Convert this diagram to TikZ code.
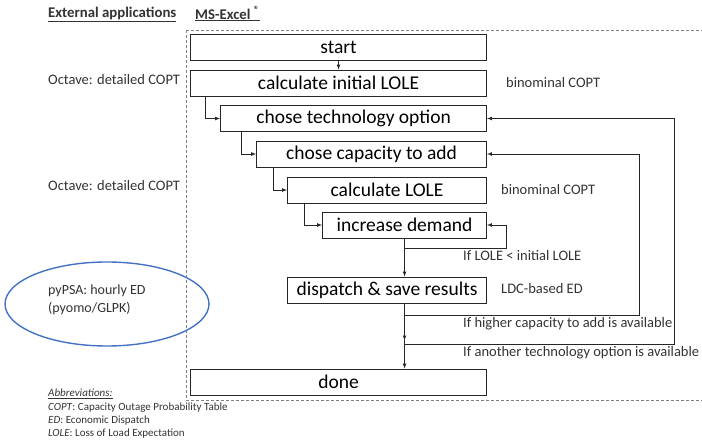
\documentclass[tikz,border=0pt]{standalone}
\usepackage{fontspec}
\setmainfont{Carlito}
\tikzset{
	box/.style={draw=black!85, line width=0.9pt, anchor=east, minimum height=26pt, inner sep=0pt, font=\fontsize{19.5}{22}\selectfont},
	link/.style={-latex, line width=0.7pt, draw=black!85},
	note/.style={anchor=west, inner sep=0pt, text=black!80, font=\fontsize{14.5}{17}\selectfont},
	head/.style={note, font=\fontsize{14.8}{17}\selectfont\bfseries},
	abbr/.style={anchor=north west, inner sep=0pt, align=left, text=black!80, font=\fontsize{11}{13.3}\selectfont},
}
\begin{document}
\begin{tikzpicture}[x=1pt,y=-1pt]
		\useasboundingbox (0,0) rectangle (702,443);
		\draw[black!50, densely dashed, line width=0.5pt] (186,30) rectangle (710,400);
		\node[head] at (48,14) (ext) {\underline{External applications}};
		\node[head] at (195,14) (excel) {\underline{MS-Excel \textsuperscript{®}}};
		\node[box, minimum width=296] at (487,47) (start) {start};
		\node[box, minimum width=296] at (487,83) (init) {calculate initial LOLE};
		\node[box, minimum width=266] at (487,118.5) (tech) {chose technology option};
		\node[box, minimum width=230] at (487,154) (cap) {chose capacity to add};
		\node[box, minimum width=199] at (487,190) (lole) {calculate LOLE};
		\node[box, minimum width=164] at (487,225) (dem) {increase demand};
		\node[box, minimum width=199] at (487,290) (disp) {dispatch \& save results};
		\node[box, minimum width=296] at (487,382) (done) {done};
		\node[note] at (48,80) (oct1) {Octave: detailed COPT};
		\node[note] at (48,186) (oct2) {Octave: detailed COPT};
		\node[note] at (506,83) (binom1) {binominal COPT};
		\node[note] at (501,190) (binom2) {binominal COPT};
		\node[note] at (501,289) (ldc) {LDC-based ED};
		\node[note] at (463,256) (cond1) {If LOLE < initial LOLE};
		\node[note] at (463,324) (cond2) {If higher capacity to add is available};
		\node[note] at (463,353) (cond3) {If another technology option is available};
		\node[note, align=left, font=\fontsize{14}{18}\selectfont] at (48,300) (pypsa) {pyPSA: hourly ED\\(pyomo/GLPK)};
		\draw[line width=1.4pt, draw={rgb,255:red,68;green,114;blue,196}] (107,304) ellipse [x radius=102, y radius=42];
		\node[abbr] at (48,389) (abbrev) {\textit{\underline{Abbreviations:}}\\\textit{COPT}: Capacity Outage Probability Table\\\textit{ED}: Economic Dispatch\\\textit{LOLE}: Loss of Load Expectation};
		% flow down the steps
		\draw[link] (start) -- (init);
		\draw[link] ([xshift=15]init.south west) |- (tech.west);
		\draw[link] ([xshift=21]tech.south west) |- (cap.west);
		\draw[link] ([xshift=17]cap.south west) |- (lole.west);
		\draw[link] ([xshift=17]lole.south west) |- (dem.west);
		\draw[link] (dem.south) -- (dem.south |- disp.north);
		\draw[link] ([yshift=-10]dem.south) -| ([xshift=19]dem.east) -- (dem.east);
		% loops back
		\path (dem.south |- disp.south) ++(0,12) coordinate (capback) ++(0,29) coordinate (techback);
		\draw[link] (dem.south |- disp.south) -- ++(0,37) coordinate (mid);
		\draw[link] (mid) -- (mid |- done.north);
		\draw[link] (capback) -| ([xshift=152]cap.east) -- (cap.east);
		\draw[link] (techback) -| ([xshift=187]tech.east) -- (tech.east);
\end{tikzpicture}
\end{document}
